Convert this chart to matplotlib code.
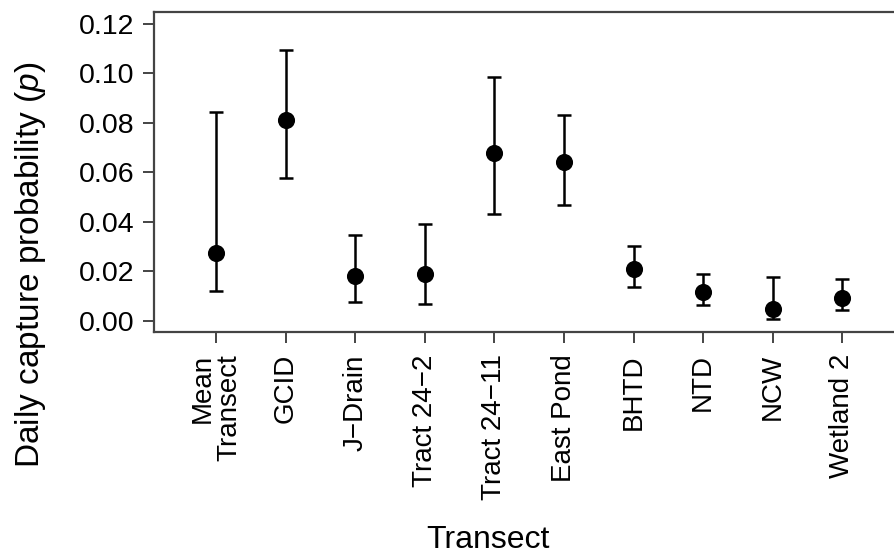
import matplotlib
matplotlib.use("Agg")
import matplotlib.pyplot as plt
import numpy as np

plt.rcParams['font.family'] = ['Liberation Sans', 'DejaVu Sans']
plt.rcParams['mathtext.fontset'] = 'custom'
plt.rcParams['mathtext.it'] = 'Liberation Sans:italic'
plt.rcParams['mathtext.rm'] = 'Liberation Sans'

categories = ["Mean\nTransect", "GCID", "J\u2212Drain", "Tract 24\u22122", "Tract 24\u221211",
              "East Pond", "BHTD", "NTD", "NCW", "Wetland 2"]
estimate = [0.0276, 0.0812, 0.0183, 0.0190, 0.0680, 0.0640, 0.0210, 0.0117, 0.0048, 0.0094]
upper = [0.0844, 0.1093, 0.0345, 0.0390, 0.0985, 0.0833, 0.0304, 0.0190, 0.0177, 0.0170]
lower = [0.0122, 0.0576, 0.0078, 0.0069, 0.0433, 0.0470, 0.0135, 0.0064, 0.0008, 0.0044]
yticks = [0.00, 0.02, 0.04, 0.06, 0.08, 0.10, 0.12]
ytick_labels = ["0.00", "0.02", "0.04", "0.06", "0.08", "0.10", "0.12"]

W, H = 895, 555
fig = plt.figure(figsize=(W/100, H/100), dpi=100)
ax = fig.add_axes([154/W, 1-332/H, (905-154)/W, (332-12)/H])

x = np.arange(1, len(categories)+1)
est = np.array(estimate)
yerr = np.vstack([est - np.array(lower), np.array(upper) - est])
ax.errorbar(x, est, yerr=yerr, fmt='o', color='black', ms=11.3, elinewidth=1.8,
            capsize=4.7, capthick=1.8, zorder=3)

ax.set_xlim(0.11, 10.9)
ax.set_ylim(-0.0045, 0.1248)
ax.set_yticks(yticks)
ax.set_yticklabels(ytick_labels, fontsize=20.5)
ax.set_xticks(x)
ax.set_xticklabels(categories, rotation=90, fontsize=20, va='top', ha='center',
                   linespacing=1.0, multialignment='right')

for s in ['left', 'bottom', 'top']:
    ax.spines[s].set_color('#444444')
    ax.spines[s].set_linewidth(1.6)
ax.spines['right'].set_visible(False)
ax.tick_params(axis='both', length=8, width=1.4, color='#444444')
ax.tick_params(axis='y', pad=6)
ax.tick_params(axis='x', pad=8)

fig.text(31/W, 1-265/H, "Daily capture probability ($\\mathit{p}$)", rotation=90,
         ha='center', va='center', fontsize=24)
fig.text(488/W, 1-548/H, "Transect", ha='center', va='baseline', fontsize=23)

fig.savefig("out.png", dpi=100)
